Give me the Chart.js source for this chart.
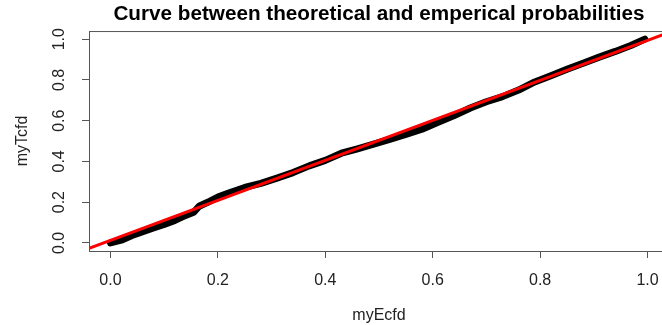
<!DOCTYPE html>
<html>
<head>
<meta charset="utf-8">
<script src="https://cdn.jsdelivr.net/npm/chart.js@4.4.0/dist/chart.umd.min.js"></script>
<style>
  html, body { margin: 0; padding: 0; background: #fff; overflow: hidden; }
  canvas { display: block; }
</style>
</head>
<body>
<canvas id="probChart" width="680" height="325"></canvas>
<script>
// empirical cdf against theoretical cdf of the sorted sample
const myEcfd = [0.00, 0.02, 0.04, 0.06, 0.08, 0.10, 0.12, 0.14, 0.155, 0.165, 0.18, 0.20, 0.22,
  0.25, 0.28, 0.31, 0.34, 0.37, 0.40, 0.43, 0.46, 0.49, 0.52, 0.55, 0.58, 0.61, 0.64, 0.67,
  0.70, 0.73, 0.76, 0.79, 0.82, 0.85, 0.88, 0.91, 0.94, 0.97, 0.995];
const myTcfd = [0.000, 0.013, 0.036, 0.055, 0.073, 0.090, 0.110, 0.135, 0.150, 0.180, 0.198, 0.225, 0.245,
  0.272, 0.292, 0.318, 0.345, 0.378, 0.405, 0.440, 0.462, 0.485, 0.508, 0.532, 0.558, 0.592, 0.625, 0.662,
  0.693, 0.718, 0.750, 0.790, 0.820, 0.852, 0.882, 0.912, 0.940, 0.970, 1.000];

// fitted line (abline), end points
const fitX = [-0.04, 1.04];
const fitY = [-0.027, 1.033];

const tickValues = [0, 0.2, 0.4, 0.6, 0.8, 1];

const FONT = "'Liberation Sans', Arial, sans-serif";
const axisColor = '#555';
const textColor = '#222';

const toPoints = (xs, ys) => xs.map((x, i) => ({ x, y: ys[i] }));

// box round the plot region + rotated y tick labels (R style)
const plotBox = {
  id: 'plotBox',
  afterDraw(chart) {
    const { ctx, chartArea: a, scales: { y } } = chart;
    ctx.save();
    ctx.strokeStyle = axisColor;
    ctx.lineWidth = 1;
    ctx.strokeRect(a.left + 0.5, a.top + 0.5, a.right - a.left, a.bottom - a.top);
    ctx.fillStyle = textColor;
    ctx.font = `16px ${FONT}`;
    ctx.textAlign = 'center';
    ctx.textBaseline = 'middle';
    tickValues.forEach((v) => {
      ctx.save();
      ctx.translate(60, y.getPixelForValue(v));
      ctx.rotate(-Math.PI / 2);
      ctx.fillText(v.toFixed(1), 0, 0);
      ctx.restore();
    });
    ctx.restore();
  },
};

const ctx = document.querySelector('#probChart').getContext('2d');
const probChart = new Chart(ctx, {
  type: 'scatter',
  data: {
    datasets: [{
      label: 'fit',
      data: toPoints(fitX, fitY),
      showLine: true,
      borderColor: '#ff0000',
      borderWidth: 3,
      pointRadius: 0,
      clip: 0,
    }, {
      label: 'ecdf',
      data: toPoints(myEcfd, myTcfd),
      showLine: true,
      borderColor: '#000',
      borderWidth: 7,
      borderJoinStyle: 'round',
      borderCapStyle: 'round',
      pointRadius: 0,
      clip: 0,
    }],
  },
  options: {
    responsive: false,
    animation: false,
    devicePixelRatio: 1,
    // plot region runs a little past the visible window on the right
    layout: { padding: { left: 0, top: 0, right: 11, bottom: 0 } },
    plugins: {
      legend: { display: false },
      tooltip: { enabled: false },
      title: {
        display: true,
        text: 'Curve between theoretical and emperical probabilities',
        fullSize: false,
        color: '#000',
        font: { family: FONT, size: 20.7, weight: 'bold' },
        padding: { top: 2, bottom: 4.2 },
      },
    },
    scales: {
      x: {
        type: 'linear',
        min: -0.04,
        max: 1.04,
        afterBuildTicks: (scale) => { scale.ticks = tickValues.map((v) => ({ value: v })); },
        afterFit: (scale) => { scale.height = 74; },
        border: { display: false },
        grid: { drawOnChartArea: false, drawTicks: true, tickLength: 7, color: axisColor },
        ticks: {
          padding: 13,
          color: textColor,
          font: { family: FONT, size: 16 },
          maxRotation: 0,
          callback: (v) => Number(v).toFixed(1),
        },
        title: {
          display: true,
          text: 'myEcfd',
          color: textColor,
          font: { family: FONT, size: 16 },
          padding: { top: 0, bottom: 0 },
        },
      },
      y: {
        type: 'linear',
        min: -0.04,
        max: 1.04,
        afterBuildTicks: (scale) => { scale.ticks = tickValues.map((v) => ({ value: v })); },
        afterFit: (scale) => { scale.width = 89; },
        border: { display: false },
        grid: { drawOnChartArea: false, drawTicks: true, tickLength: 7, color: axisColor },
        ticks: { display: false },
        title: {
          display: true,
          text: 'myTcfd',
          color: textColor,
          font: { family: FONT, size: 16 },
          padding: { top: 13, bottom: 0 },
        },
      },
    },
  },
  plugins: [plotBox],
});
</script>
</body>
</html>
